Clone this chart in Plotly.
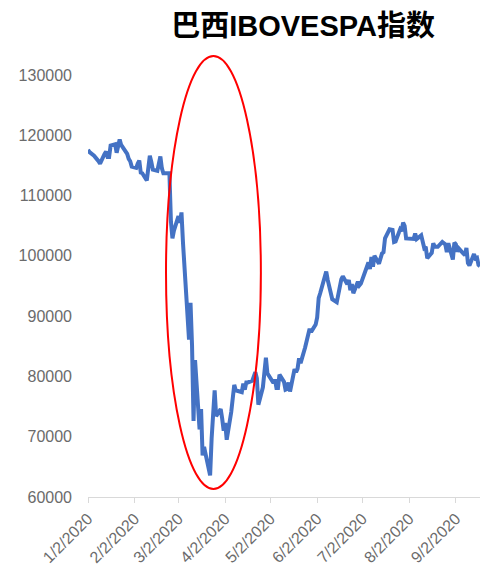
import plotly.graph_objects as go

# ---- data (IBOVESPA daily close, 2020) ----
dates = [
    "2020-01-02", "2020-01-03", "2020-01-06", "2020-01-07", "2020-01-08", "2020-01-09", "2020-01-10",
    "2020-01-13", "2020-01-14", "2020-01-15", "2020-01-16", "2020-01-17", "2020-01-20", "2020-01-21",
    "2020-01-22", "2020-01-23", "2020-01-24", "2020-01-27", "2020-01-28", "2020-01-29", "2020-01-30",
    "2020-01-31", "2020-02-03", "2020-02-04", "2020-02-05", "2020-02-06", "2020-02-07", "2020-02-10",
    "2020-02-11", "2020-02-12", "2020-02-13", "2020-02-14", "2020-02-17", "2020-02-18", "2020-02-19",
    "2020-02-20", "2020-02-21", "2020-02-24", "2020-02-25", "2020-02-26", "2020-02-27", "2020-02-28",
    "2020-03-02", "2020-03-03", "2020-03-04", "2020-03-05", "2020-03-06", "2020-03-09", "2020-03-10",
    "2020-03-11", "2020-03-12", "2020-03-13", "2020-03-16", "2020-03-17", "2020-03-18", "2020-03-19",
    "2020-03-20", "2020-03-23", "2020-03-24", "2020-03-25", "2020-03-26", "2020-03-27", "2020-03-30",
    "2020-03-31", "2020-04-01", "2020-04-02", "2020-04-03", "2020-04-06", "2020-04-07", "2020-04-08",
    "2020-04-09", "2020-04-13", "2020-04-14", "2020-04-15", "2020-04-16", "2020-04-17", "2020-04-20",
    "2020-04-22", "2020-04-23", "2020-04-24", "2020-04-27", "2020-04-28", "2020-04-29", "2020-04-30",
    "2020-05-04", "2020-05-05", "2020-05-06", "2020-05-07", "2020-05-08", "2020-05-11", "2020-05-12",
    "2020-05-13", "2020-05-14", "2020-05-15", "2020-05-18", "2020-05-19", "2020-05-20", "2020-05-21",
    "2020-05-22", "2020-05-25", "2020-05-26", "2020-05-27", "2020-05-28", "2020-05-29", "2020-06-01",
    "2020-06-02", "2020-06-03", "2020-06-04", "2020-06-05", "2020-06-08", "2020-06-09", "2020-06-10",
    "2020-06-12", "2020-06-15", "2020-06-16", "2020-06-17", "2020-06-18", "2020-06-19", "2020-06-22",
    "2020-06-23", "2020-06-24", "2020-06-25", "2020-06-26", "2020-06-29", "2020-06-30", "2020-07-01",
    "2020-07-02", "2020-07-03", "2020-07-06", "2020-07-07", "2020-07-08", "2020-07-09", "2020-07-10",
    "2020-07-13", "2020-07-14", "2020-07-15", "2020-07-16", "2020-07-17", "2020-07-20", "2020-07-21",
    "2020-07-22", "2020-07-23", "2020-07-24", "2020-07-27", "2020-07-28", "2020-07-29", "2020-07-30",
    "2020-07-31", "2020-08-03", "2020-08-04", "2020-08-05", "2020-08-06", "2020-08-07", "2020-08-10",
    "2020-08-11", "2020-08-12", "2020-08-13", "2020-08-14", "2020-08-17", "2020-08-18", "2020-08-19",
    "2020-08-20", "2020-08-21", "2020-08-24", "2020-08-25", "2020-08-26", "2020-08-27", "2020-08-28",
    "2020-08-31", "2020-09-01", "2020-09-02", "2020-09-03", "2020-09-04", "2020-09-08", "2020-09-09",
    "2020-09-10", "2020-09-11", "2020-09-14", "2020-09-15", "2020-09-16", "2020-09-17", "2020-09-18",
]

closes = [
    117600, 117200, 116600, 116400, 116000, 115700, 115300,
    116900, 117300, 116400, 116400, 118300, 118500, 117100,
    118300, 119300, 118400, 117200, 116900, 116100, 115700,
    114800, 114600, 115300, 115800, 113800, 113700, 112500,
    115300, 116600, 115600, 114300, 114100, 115000, 116500,
    114500, 113700, 113700, 113700, 105700, 102900, 104200,
    106600, 105500, 107200, 102200, 98000, 86100, 92200,
    85200, 72600, 82700, 71200, 74600, 66900, 68300,
    67100, 63600, 69700, 75000, 77700, 73400, 74600,
    73000, 71000, 72300, 69500, 74100, 76400, 78600,
    77700, 77400, 78800, 77800, 79000, 79000, 79300,
    80700, 79700, 75300, 78200, 81300, 83100, 80500,
    78900, 79500, 78100, 78100, 80300, 79100, 77800,
    77900, 79000, 77500, 81200, 80700, 81300, 83000,
    82200, 84800, 85700, 86900, 87900, 87400, 88600,
    89800, 93000, 93800, 94600, 97400, 96000, 94700,
    92800, 92300, 93500, 95500, 96100, 96600, 95300,
    96000, 94300, 95300, 93800, 95700, 95100, 95400,
    96200, 96800, 98900, 97800, 99800, 98200, 100000,
    98700, 99900, 100400, 100600, 102900, 104400, 104300,
    104300, 102300, 102400, 104400, 104100, 105500, 105000,
    102900, 102800, 102800, 102800, 103700, 102800, 103400,
    102200, 101300, 101500, 99600, 100500, 102100, 101500,
    101500, 101500, 102300, 102100, 101900, 100600, 102100,
    99400, 102200, 101900, 100700, 101200, 100100, 101300,
    98800, 98400, 100300, 99600, 99700, 98500, 98300,
]

tick_dates = ["2020-01-02", "2020-02-02", "2020-03-02", "2020-04-02", "2020-05-02",
              "2020-06-02", "2020-07-02", "2020-08-02", "2020-09-02"]
tick_labels = ["1/2/2020", "2/2/2020", "3/2/2020", "4/2/2020", "5/2/2020",
               "6/2/2020", "7/2/2020", "8/2/2020", "9/2/2020"]
y_ticks = [60000, 70000, 80000, 90000, 100000, 110000, 120000, 130000]
y_labels = ["60000", "70000", "80000", "90000", "100000", "110000", "120000", "130000"]
title_text = "巴西IBOVESPA指数"

fig = go.Figure()
fig.add_trace(go.Scatter(
    x=dates, y=closes, mode="lines",
    line=dict(color="#4472C4", width=4),
    hoverinfo="skip", showlegend=False,
))

# red ellipse highlighting the crash
fig.add_shape(type="circle", xref="paper", yref="paper",
              x0=0.1990, x1=0.4410, y0=0.019, y1=1.045,
              line=dict(color="#FF0000", width=2), layer="above")

fig.update_layout(
    width=481, height=566,
    margin=dict(l=88, r=1, t=75, b=69),
    paper_bgcolor="white", plot_bgcolor="white",
    font=dict(family="Liberation Sans, Arial, sans-serif", color="#6B6B6B", size=16),
    title=dict(text="<b>" + title_text + "</b>", x=0.63, xanchor="center",
               xref="container", y=0.955, yref="container", yanchor="middle",
               font=dict(family="Liberation Sans, Noto Sans CJK SC, sans-serif", size=29,
                         color="#000000")),
    xaxis=dict(
        type="date", range=["2020-01-02", "2020-09-18"],
        tickvals=tick_dates, ticktext=tick_labels, tickangle=-45,
        showgrid=False, zeroline=False,
        showline=True, linecolor="#D9D9D9", linewidth=1,
        ticks="outside", ticklen=5, tickcolor="#D9D9D9", tickwidth=1,
        tickfont=dict(size=16, color="#6B6B6B"),
    ),
    yaxis=dict(
        range=[60000, 130000], tickvals=y_ticks, ticktext=y_labels,
        showgrid=False, zeroline=False, showline=False,
        ticks="", ticklabelstandoff=15,
        tickfont=dict(size=16, color="#6B6B6B"),
    ),
)

fig.write_html("out.html")
